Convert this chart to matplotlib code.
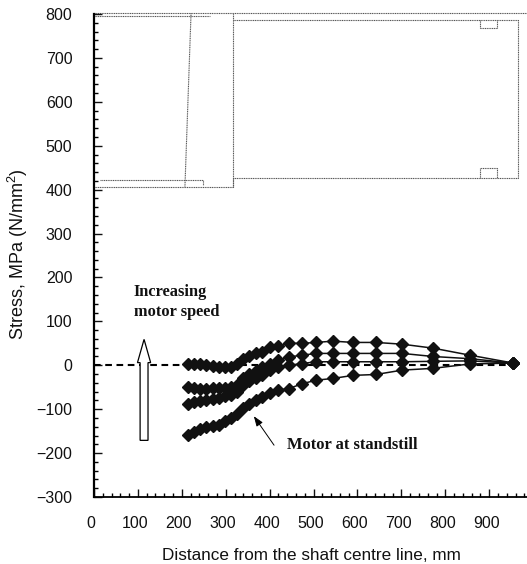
import matplotlib
matplotlib.use("Agg")
import matplotlib.pyplot as plt
from matplotlib.ticker import MultipleLocator
from matplotlib.transforms import ScaledTranslation

plt.rcParams['font.family'] = ['Liberation Sans', 'DejaVu Sans']
plt.rcParams['mathtext.default'] = 'regular'

distance = [214, 228, 242, 256, 270, 284, 298, 312, 326, 340, 354, 368, 383,
            401, 419, 444, 474, 506, 544, 590, 642, 702, 772, 856, 955]
speed_high = [4, 4, 3, 1, -1, -4, -5, -3, 3, 14, 21, 27, 30,
              41, 43, 50, 50, 52, 55, 52, 52, 48, 39, 23, 5]
speed_mid = [-50, -52, -53, -53, -52, -52, -51, -49, -44, -29, -19, -13, -4,
             4, 11, 19, 23, 27, 27, 27, 27, 27, 20, 15, 5]
speed_low = [-88, -84, -82, -79, -76, -74, -71, -67, -60, -44, -35, -30, -23,
             -11, -4, 0, 4, 8, 8, 8, 8, 8, 9, 10, 5]
standstill = [-159, -152, -146, -141, -138, -135, -128, -121, -110, -97, -88, -79, -72,
              -64, -57, -53, -42, -34, -30, -23, -21, -11, -7, 3, 5]
series = [speed_high, speed_mid, speed_low, standstill]

outline_paths = [
    ([0, 990], [802, 802]),
    ([0, 265], [795, 795]),
    ([221, 207], [802, 405]),
    ([0, 316, 316], [405, 405, 802]),
    ([316, 966, 966, 316, 316], [786, 786, 426, 426, 405]),
    ([14, 248, 248], [421, 421, 410]),
    ([879, 879, 918, 918], [786, 767, 767, 786]),
    ([879, 879, 918, 918], [426, 449, 449, 426]),
]

fig = plt.figure(figsize=(5.27, 5.64), dpi=100)
ax = fig.add_axes([94 / 527, 1 - 497 / 564, 433 / 527, 483 / 564])
ax.set_xlim(0, 986)
ax.set_ylim(-300, 800)
ax.set_facecolor('white')

for xs, ys in outline_paths:
    ax.plot(xs, ys, color='#555555', lw=0.8, ls=(0, (1, 0.6)), clip_on=False, zorder=1)

ax.plot([0, 955], [0, 0], color='black', lw=1.5, ls=(0, (3.2, 2.2)), zorder=2)

for vals in series:
    ax.plot(distance, vals, color='#111111', lw=1.1, marker='D', ms=5.8,
            mec='#111111', mfc='#111111', zorder=3)

# Speed arrow
ax.fill([105, 123, 123, 129, 114, 99, 105], [-171, -171, 6, 6, 59, 6, 6],
        facecolor='white', edgecolor='black', lw=0.9, zorder=4)

ax.annotate('', xy=(364, -116), xytext=(410, -182),
            arrowprops=dict(arrowstyle='-|>,head_width=0.22,head_length=0.6',
                            color='black', lw=0.7, shrinkA=0, shrinkB=0))
ax.text(439, -181, 'Motor at standstill', family='Liberation Serif', weight='bold',
        fontsize=11.9, ha='left', va='center', color='#111111')
ax.text(91, 167, 'Increasing', family='Liberation Serif', weight='bold',
        fontsize=11.8, ha='left', va='center', color='#111111')
ax.text(91, 121, 'motor speed', family='Liberation Serif', weight='bold',
        fontsize=11.8, ha='left', va='center', color='#111111')

for s in ('top', 'right'):
    ax.spines[s].set_visible(False)
ax.spines['left'].set_linewidth(1.6)
ax.spines['bottom'].set_linewidth(1.3)

ax.xaxis.set_major_locator(MultipleLocator(100))
ax.xaxis.set_minor_locator(MultipleLocator(20))
ax.yaxis.set_major_locator(MultipleLocator(100))
ax.yaxis.set_minor_locator(MultipleLocator(20))
ax.set_xticks(range(0, 1000, 100))
ax.set_yticks(range(-300, 900, 100))
ax.tick_params(which='major', direction='in', length=5.5, width=1, labelsize=11.5, colors='#111111')
ax.tick_params(which='minor', direction='in', length=3, width=1)
ax.tick_params(axis='x', which='major', pad=14)
ax.tick_params(axis='y', which='major', pad=15.5)
offset = ScaledTranslation(-3 / 100, 0, fig.dpi_scale_trans)
for lab in ax.get_xticklabels():
    lab.set_transform(lab.get_transform() + offset)
labels = ['0'] + [str(v) for v in range(100, 1000, 100)]
ax.set_xticklabels(labels)
ax.set_yticklabels([str(v).replace('-', '\u2212') for v in range(-300, 900, 100)])

fig.text(311 / 527, 1 - 556 / 564, 'Distance from the shaft centre line, mm',
         fontsize=12.3, ha='center', va='center', color='#111111')
fig.text(18 / 527, 1 - 254 / 564, 'Stress, MPa (N/mm$^{2}$)', rotation=90,
         fontsize=13, ha='center', va='center', color='#111111')

fig.savefig('out.png', dpi=100, facecolor='white')
